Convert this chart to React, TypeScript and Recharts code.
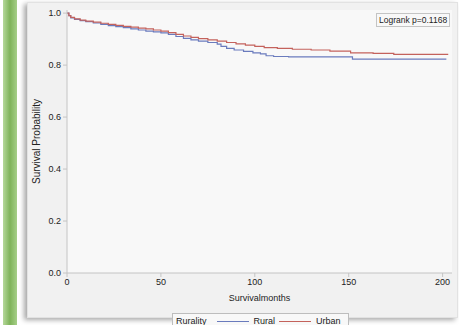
import { LineChart, Line, XAxis, YAxis, CartesianGrid } from 'recharts'

// Kaplan-Meier estimates (months, survival)
const ruralMonths = [0, 1, 2, 4, 7, 10, 14, 18, 22, 26, 30, 34, 38, 42, 46, 50, 54, 58, 62, 66, 70, 75, 80, 82, 85, 89, 94, 99, 103, 106, 110, 118, 152, 202]
const ruralSurv = [1.0, 0.99, 0.982, 0.976, 0.971, 0.967, 0.962, 0.957, 0.952, 0.948, 0.944, 0.939, 0.935, 0.931, 0.928, 0.924, 0.918, 0.91, 0.903, 0.897, 0.892, 0.887, 0.881, 0.872, 0.864, 0.858, 0.853, 0.847, 0.843, 0.836, 0.833, 0.832, 0.823, 0.823]

const urbanMonths = [0, 1, 2, 4, 7, 10, 14, 18, 22, 26, 30, 34, 38, 42, 46, 50, 54, 58, 62, 66, 70, 75, 80, 85, 90, 95, 100, 105, 112, 120, 130, 140, 151, 163, 174, 203]
const urbanSurv = [1.0, 0.99, 0.984, 0.978, 0.973, 0.969, 0.965, 0.961, 0.957, 0.953, 0.949, 0.946, 0.942, 0.939, 0.935, 0.931, 0.925, 0.918, 0.912, 0.907, 0.902, 0.897, 0.892, 0.887, 0.882, 0.877, 0.872, 0.867, 0.864, 0.861, 0.858, 0.854, 0.847, 0.845, 0.841, 0.841]

const xTicks = [0, 50, 100, 150, 200]
const yTicks = [0, 0.2, 0.4, 0.6, 0.8, 1.0]

const groups = [
  { name: 'Rural', color: '#6a7bbd' },
  { name: 'Urban', color: '#c4625c' },
]

const FONT = '"Liberation Sans", Arial, sans-serif'

const rural = ruralMonths.map((t, i) => ({ t, s: ruralSurv[i] }))
const urban = urbanMonths.map((t, i) => ({ t, s: urbanSurv[i] }))

function LegendBox() {
  return (
    <div
      style={{
        position: 'absolute',
        left: 172,
        top: 313,
        display: 'flex',
        alignItems: 'center',
        height: 14,
        padding: '0 3px',
        background: '#f8f8f8',
        border: '1px solid #bdbdbd',
        fontFamily: FONT,
        fontSize: 9,
        color: '#222',
        whiteSpace: 'nowrap',
      }}
    >
      <span style={{ marginRight: 10 }}>Rurality</span>
      {groups.map((g) => (
        <span key={g.name} style={{ display: 'flex', alignItems: 'center', marginRight: 2 }}>
          <span style={{ display: 'inline-block', width: 32, height: 1, background: g.color, marginRight: 5 }} />
          <span style={{ marginRight: 2 }}>{g.name}</span>
        </span>
      ))}
    </div>
  )
}

export default function App() {
  return (
    <>
      <style>{'html,body{margin:0;padding:0;overflow:hidden}'}</style>
      <div style={{ position: 'relative', width: 459, height: 325, overflow: 'hidden', background: '#fff' }}>
        {/* green side bar */}
        <div style={{ position: 'absolute', left: 3, top: 0, width: 14, height: 325, background: 'linear-gradient(to right, #b5d89a, #7fb35a 50%, #a6cf88)' }} />
        {/* grey panel */}
        <div
          style={{
            position: 'absolute',
            left: 27,
            top: 2,
            width: 429,
            height: 314,
            background: '#f1f1f1',
            border: '1px solid #e2e2e2',
            boxShadow: '-3px 2px 5px rgba(0,0,0,0.35)',
          }}
        />
        <div style={{ position: 'absolute', left: 0, top: 0 }}>
          <LineChart width={459} height={325} margin={{ top: 10, right: 7, bottom: 22, left: 0 }}>
            <CartesianGrid horizontal={false} vertical={false} fill="#f8f8f8" />
            <XAxis
              xAxisId="b"
              type="number"
              dataKey="t"
              domain={[0, 205]}
              ticks={xTicks}
              allowDataOverflow
              height={30}
              tickSize={4}
              stroke="#c4c4c4"
              tick={{ fill: '#222', fontSize: 9, fontFamily: FONT }}
              label={{ value: 'Survivalmonths', position: 'insideBottom', offset: 2, fill: '#222', fontSize: 9, fontFamily: FONT }}
            />
            <XAxis xAxisId="t" orientation="top" type="number" domain={[0, 205]} height={0} tick={false} tickLine={false} stroke="#c4c4c4" />
            <YAxis
              yAxisId="l"
              type="number"
              domain={[0, 1.012]}
              ticks={yTicks}
              allowDataOverflow
              width={67}
              tickSize={4}
              stroke="#c4c4c4"
              tickFormatter={(v: number) => v.toFixed(1)}
              tick={{ fill: '#222', fontSize: 9, fontFamily: FONT }}
              label={{ value: 'Survival Probability', angle: -90, position: 'insideLeft', offset: 36, fill: '#222', fontSize: 10, fontFamily: FONT, style: { textAnchor: 'middle' } }}
            />
            <YAxis yAxisId="r" orientation="right" type="number" domain={[0, 1.012]} width={0} tick={false} tickLine={false} stroke="#c4c4c4" />
            <Line
              xAxisId="b"
              yAxisId="l"
              data={rural}
              dataKey="s"
              name="Rural"
              type="stepAfter"
              stroke={groups[0].color}
              strokeWidth={1.2}
              dot={false}
              isAnimationActive={false}
            />
            <Line
              xAxisId="b"
              yAxisId="l"
              data={urban}
              dataKey="s"
              name="Urban"
              type="stepAfter"
              stroke={groups[1].color}
              strokeWidth={1.2}
              dot={false}
              isAnimationActive={false}
            />
          </LineChart>
        </div>
        <LegendBox />
        {/* logrank annotation */}
        <div
          style={{
            position: 'absolute',
            left: 376,
            top: 13,
            height: 12,
            padding: '0 2px',
            lineHeight: '12px',
            whiteSpace: 'nowrap',
            background: '#f8f8f8',
            border: '1px solid #c4c4c4',
            fontFamily: FONT,
            fontSize: 8.5,
            color: '#222',
          }}
        >
          Logrank p=0.1168
        </div>
      </div>
    </>
  )
}
